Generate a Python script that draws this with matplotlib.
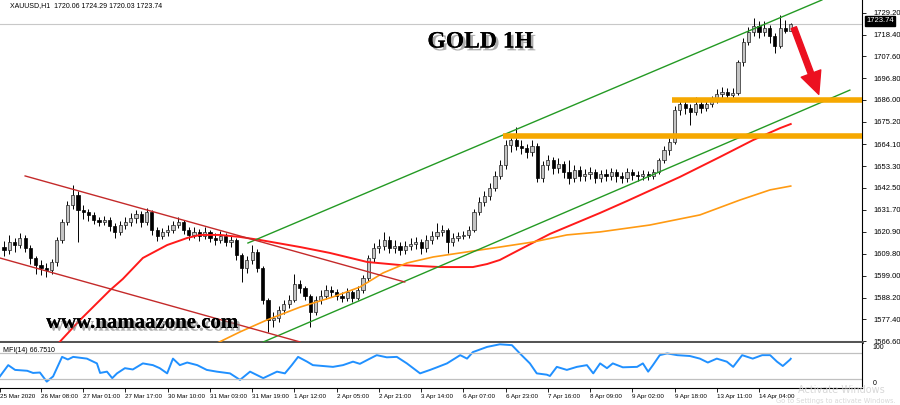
import numpy as np
import matplotlib.pyplot as plt
import matplotlib.patheffects as pe
from matplotlib.patches import FancyArrowPatch
from matplotlib import font_manager

# ---- data (2 hour bars, XAUUSD) ----
first_open = 1613.0
closes = [1611.8, 1615.7, 1614.2, 1617.7, 1612.7, 1607.8, 1604.3, 1602.8, 1601.9, 1605.8,
          1616.7, 1625.6, 1634.0, 1639.0, 1631.6, 1630.6, 1629.1, 1626.6, 1625.6, 1626.6,
          1623.6, 1620.7, 1624.1, 1625.6, 1627.6, 1629.6, 1625.6, 1630.6, 1621.7, 1618.7,
          1620.7, 1621.7, 1624.1, 1625.6, 1621.7, 1619.2, 1620.7, 1618.7, 1620.7, 1617.7,
          1616.7, 1618.7, 1615.7, 1616.7, 1609.3, 1602.8, 1606.8, 1610.8, 1602.8, 1587.0,
          1577.1, 1578.1, 1582.0, 1585.0, 1587.0, 1594.9, 1592.9, 1589.0, 1581.1, 1587.0,
          1589.0, 1591.9, 1590.9, 1589.0, 1588.0, 1590.9, 1588.0, 1591.9, 1597.9, 1607.8,
          1612.7, 1613.7, 1616.7, 1612.7, 1613.7, 1611.8, 1613.7, 1614.7, 1615.7, 1612.7,
          1616.7, 1618.7, 1620.7, 1621.7, 1615.7, 1617.7, 1618.7, 1619.2, 1621.7, 1630.6,
          1635.5, 1638.5, 1642.4, 1648.4, 1653.8, 1663.7, 1666.2, 1663.2, 1662.2, 1660.3,
          1663.2, 1647.4, 1653.8, 1656.3, 1652.3, 1654.3, 1650.4, 1647.4, 1651.4, 1648.4,
          1649.4, 1650.4, 1647.4, 1649.4, 1648.4, 1650.4, 1648.4, 1647.4, 1650.4, 1648.9,
          1648.4, 1649.4, 1648.4, 1650.4, 1656.3, 1661.3, 1665.2, 1681.0, 1684.0, 1682.0,
          1680.1, 1684.0, 1682.0, 1684.0, 1686.0, 1689.0, 1690.0, 1688.5, 1689.5, 1704.8,
          1714.7, 1719.7, 1722.6, 1719.7, 1721.6, 1717.7, 1712.7, 1721.6, 1720.06, 1723.74]
highs = [1616, 1619, 1617.5, 1620, 1619, 1614, 1609, 1607, 1605.5, 1607.5,
         1618, 1627, 1636, 1644, 1641, 1634, 1632, 1630.5, 1628, 1628.5,
         1628, 1625, 1626, 1628, 1630, 1631.5, 1631, 1632.5, 1631.5, 1623,
         1622.5, 1624, 1626, 1628, 1626.5, 1623, 1623, 1622, 1623, 1621.5,
         1620, 1621, 1620, 1618.5, 1617.5, 1610.5, 1609, 1614, 1612, 1604,
         1588, 1581, 1584, 1587, 1589.5, 1600, 1597, 1594, 1590, 1589,
         1592, 1594.5, 1594, 1592.5, 1591, 1593, 1592, 1594, 1599.5, 1609.5,
         1615, 1617, 1620.7, 1618.5, 1616.5, 1615.5, 1616, 1617.5, 1618, 1617,
         1619, 1621, 1625, 1624, 1622.5, 1620, 1620.5, 1621, 1623.5, 1632,
         1638, 1641, 1645, 1651, 1656.5, 1666, 1668.5, 1672.6, 1666, 1664,
         1666, 1664.5, 1656, 1659, 1658, 1657.5, 1656, 1656.5, 1654, 1653.5,
         1652, 1653, 1652, 1651.5, 1652, 1652.5, 1652, 1650.5, 1652.5, 1652,
         1651, 1651.5, 1651, 1652, 1657.5, 1663, 1667, 1683, 1686.5, 1686,
         1684, 1687.5, 1686, 1686.5, 1688, 1691.5, 1692.5, 1692, 1692, 1706,
         1716.5, 1722, 1726.6, 1725, 1725, 1723, 1719, 1728.0, 1725.5, 1724.29]
lows = [1609, 1610, 1611, 1612.5, 1611, 1605, 1600, 1599.5, 1598.5, 1600,
        1604, 1615, 1624, 1632, 1615.7, 1627, 1626, 1624.5, 1623.5, 1624,
        1621, 1617.5, 1619, 1622, 1623.5, 1625, 1623, 1624, 1619, 1616,
        1617, 1618.5, 1620, 1622.5, 1619.5, 1616.5, 1617.5, 1616, 1617, 1615.5,
        1614, 1615, 1613.5, 1613, 1607, 1595.9, 1600.5, 1605, 1601, 1585,
        1571, 1573.5, 1576, 1580, 1583, 1586, 1590.5, 1587, 1573.5, 1579.5,
        1585, 1587.5, 1588.5, 1587, 1586, 1586.5, 1586, 1587, 1590.5, 1596.5,
        1606, 1610.5, 1611.5, 1610.5, 1610.5, 1609.5, 1610, 1611.5, 1612, 1610,
        1611, 1614.5, 1617, 1618.5, 1610.3, 1613.5, 1616, 1617, 1617.5, 1620.5,
        1629, 1633.5, 1636.5, 1641, 1647, 1652, 1660.5, 1661, 1659.5, 1657.5,
        1658.5, 1645.5, 1645.5, 1651.5, 1649.5, 1650, 1647.5, 1644.2, 1645.5, 1646,
        1646, 1647, 1645, 1645.5, 1646, 1646.5, 1645.5, 1645, 1645.5, 1646.5,
        1646, 1646.5, 1646.5, 1647, 1649.5, 1655, 1659, 1664, 1678.5, 1679,
        1673.6, 1678.5, 1679.5, 1680.5, 1682.5, 1684.5, 1687, 1686.5, 1686, 1688.5,
        1703, 1713, 1717.5, 1716.5, 1717.5, 1714, 1709.3, 1711.5, 1719, 1720.03]

# moving averages (knots: bar index, price)
red_ma_x = [10.0, 14.4, 20.1, 22.5, 26.3, 30.9, 34.7, 37.1, 40.9, 44.7, 48.5, 56.1, 61.7, 68.8,
            75.0, 82.6, 88.8, 91.5, 93.9, 97.2, 103.4, 112.9, 118.0, 128.0, 135.6, 141.9, 147.0, 149.0]
red_ma_y = [1564.7, 1577.1, 1591.9, 1597.4, 1607.8, 1614.2, 1617.7, 1619.2, 1619.2, 1618.2, 1616.7,
            1613.2, 1610.3, 1605.8, 1604.3, 1603.3, 1603.3, 1604.8, 1606.8, 1611.3, 1619.7, 1630.1,
            1636.0, 1647.9, 1657.8, 1666.2, 1672.1, 1674.1]
orange_ma_x = [39.6, 44.7, 49.8, 56.1, 62.3, 67.4, 71.8, 76.3, 81.3, 87.7, 93.9, 100.2, 106.6,
               112.9, 122.3, 131.8, 139.4, 145.1, 149.0]
orange_ma_y = [1564.7, 1571.2, 1577.1, 1583.5, 1588.5, 1593.4, 1600.4, 1605.3, 1608.3, 1610.8,
               1613.2, 1615.7, 1619.2, 1620.7, 1624.1, 1629.1, 1636.5, 1641.5, 1643.4]

# drawn trend lines: (x0, y0, x1, y1)
green_upper = (46.2, 1615.2, 154.9, 1735.5)
green_lower = (49.1, 1566.2, 160.2, 1690.9)
red_upper = (4.0, 1648.4, 75.9, 1595.9)
red_lower = (-0.8, 1607.8, 56.1, 1566.2)
zones = [(126.5, 1685.8), (94.5, 1668.4)]
arrow_from = (149.4, 1723.1)
arrow_to = (154.5, 1687.5)

# MFI(14)
mfi_x = [-0.8, 0.8, 2.1, 4.4, 5.5, 6.8, 8.1, 9.3, 11.0, 12.1, 13.1, 15.7, 17.6, 18.2, 19.5, 20.5,
         21.4, 22.9, 24.4, 26.3, 28.2, 29.5, 30.9, 32.0, 33.3, 34.7, 36.6, 38.4, 40.3, 42.8, 44.7,
         46.6, 49.1, 51.7, 53.2, 54.5, 55.7, 57.4, 58.5, 62.3, 64.2, 66.1, 67.4, 69.3, 70.6, 72.5,
         74.4, 76.3, 78.8, 80.7, 82.0, 83.9, 86.4, 87.7, 88.8, 91.5, 93.9, 96.2, 97.7, 99.6, 100.9,
         102.8, 103.4, 104.7, 106.6, 108.5, 110.4, 111.6, 112.9, 114.2, 115.3, 117.2, 119.9, 121.0,
         122.0, 122.9, 124.2, 125.6, 127.5, 129.9, 131.8, 133.3, 135.0, 136.9, 138.1, 139.8, 141.8,
         143.6, 145.1, 146.4, 147.5, 148.9, 149.0]
mfi_y = [25.7, 52, 41, 39, 34, 35, 14, 26, 71, 65, 71, 67, 56, 34, 37, 22,
         33, 45, 42, 56, 52, 45, 33, 67, 52, 58, 52, 41, 37, 33, 18,
         37, 22, 37, 33, 52, 71, 60, 52, 48, 52, 60, 55, 67, 75, 70,
         71, 56, 33, 41, 47, 56, 75, 67, 82, 94, 100, 98, 79, 56, 33,
         30, 27, 48, 41, 48, 52, 33, 56, 45, 56, 47, 48, 56,
         37, 52, 75, 79, 75, 73, 67, 58, 67, 60, 48, 75, 67,
         75, 75, 60, 50, 65, 66.75]

price_ticks = [1566.6, 1577.4, 1588.2, 1599.0, 1609.8, 1620.9, 1631.7, 1642.5, 1653.3,
               1664.1, 1675.2, 1686.0, 1696.8, 1707.6, 1718.4, 1729.2]
time_ticks = [7, 15, 23, 31, 39, 47, 55, 63, 71, 79, 87, 95, 103, 111, 119, 127, 135, 143]
time_labels = ['26 Mar 08:00', '27 Mar 01:00', '27 Mar 17:00', '30 Mar 10:00', '31 Mar 03:00',
               '31 Mar 19:00', '1 Apr 12:00', '2 Apr 05:00', '2 Apr 21:00', '3 Apr 14:00',
               '6 Apr 07:00', '6 Apr 23:00', '7 Apr 16:00', '8 Apr 09:00', '9 Apr 02:00',
               '9 Apr 18:00', '13 Apr 11:00', '14 Apr 04:00']
last_price = 1723.74

names = {f.name for f in font_manager.fontManager.ttflist}
small_font = 'Liberation Sans Narrow' if 'Liberation Sans Narrow' in names else 'Liberation Sans'

closes = np.array(closes)
opens = np.concatenate([[first_open], closes[:-1]])
highs = np.maximum(np.array(highs), np.maximum(opens, closes))
lows = np.minimum(np.array(lows), np.minimum(opens, closes))
x = np.arange(len(closes))
xmin, xmax = -4 / 5.28, 858 / 5.28

fig = plt.figure(figsize=(9, 4.05), dpi=100)
ax = fig.add_axes([0, 63 / 405, 862 / 900, 342 / 405])
axm = fig.add_axes([0, 17 / 405, 862 / 900, 45 / 405])

# candles
ax.vlines(x, lows, highs, color='black', lw=0.7, zorder=3)
bull = closes >= opens
body = np.maximum(np.abs(closes - opens), 0.35)
ax.bar(x[bull], body[bull], bottom=np.minimum(opens, closes)[bull], width=0.6,
       color='#c4c4c4', edgecolor='#222222', lw=0.5, zorder=4)
ax.bar(x[~bull], body[~bull], bottom=np.minimum(opens, closes)[~bull], width=0.6,
       color='black', edgecolor='black', lw=0.5, zorder=4)

ax.axhline(last_price, color='#c8c8c8', lw=0.8, zorder=1)
ax.plot(red_ma_x, red_ma_y, color='#ff1a1a', lw=1.4, zorder=5)
ax.plot(orange_ma_x, orange_ma_y, color='#ff9a12', lw=1.2, zorder=5)
for ln, col in [(green_upper, '#249a24'), (green_lower, '#249a24'),
                (red_upper, '#c42a2a'), (red_lower, '#c42a2a')]:
    ax.plot([ln[0], ln[2]], [ln[1], ln[3]], color=col, lw=1.0, zorder=5)
for start, lvl in zones:
    ax.hlines(lvl, start, xmax, color='#f6a800', lw=4.0, zorder=6)

ax.add_patch(FancyArrowPatch(arrow_from, arrow_to,
                             arrowstyle='simple,head_length=1.6,head_width=1.5,tail_width=0.4',
                             mutation_scale=10, color='#ec1020', zorder=7))

ax.set_xlim(xmin, xmax)
ax.set_ylim(1566.2, 1735.5)
ax.yaxis.tick_right()
ax.set_yticks(price_ticks)
ax.set_yticklabels(['%.2f' % v for v in price_ticks], fontsize=5.5, family=small_font)
ax.tick_params(axis='y', length=3, width=0.6, pad=5)
ax.set_xticks([])
for s in ['top', 'left']:
    ax.spines[s].set_visible(False)
ax.spines['right'].set_linewidth(0.8)
ax.spines['bottom'].set_linewidth(2.2)
ax.spines['bottom'].set_color('#555555')

ax.text(0.012, 0.983, 'XAUUSD,H1  1720.06 1724.29 1720.03 1723.74', transform=ax.transAxes,
        fontsize=5, family=small_font, va='center', ha='left')
ax.text(0.557, 0.877, 'GOLD 1H', transform=ax.transAxes, fontsize=17, fontweight='bold',
        family='Liberation Serif', ha='center', va='center', zorder=8,
        path_effects=[pe.withSimplePatchShadow(offset=(2, -2), shadow_rgbFace='#777777', alpha=0.6),
                      pe.Normal()])
ax.text(0.165, 0.056, 'www.namaazone.com', transform=ax.transAxes, fontsize=15,
        fontweight='bold', family='Liberation Serif', ha='center', va='center', zorder=8,
        path_effects=[pe.withSimplePatchShadow(offset=(2, -2), shadow_rgbFace='#777777', alpha=0.6),
                      pe.Normal()])
fig.text(866 / 900, 1 - 21 / 405, '%.2f' % last_price, fontsize=5.5, family=small_font,
         color='white', va='center', ha='left',
         bbox=dict(boxstyle='square,pad=0.15', fc='black', ec='black'))

# MFI panel
axm.plot(mfi_x, mfi_y, color='#2090ff', lw=1.4)
axm.axhline(80, color='#c0c0c0', lw=0.9)
axm.axhline(20, color='#c0c0c0', lw=0.9)
axm.set_xlim(xmin, xmax)
axm.set_ylim(-0.7, 103)
axm.set_yticks([])
axm.text(0.004, 0.84, 'MFI(14) 66.7510', transform=axm.transAxes, fontsize=5,
         family=small_font, va='center')
axm.text(1.012, 0.97, '100', transform=axm.transAxes, fontsize=5, family=small_font, va='top')
axm.text(1.012, 0.03, '0', transform=axm.transAxes, fontsize=5, family=small_font, va='bottom')
axm.set_xticks([xmin] + time_ticks)
axm.set_xticklabels(['25 Mar 2020'] + time_labels, fontsize=4.5, family=small_font, ha='left')
axm.tick_params(axis='x', length=3, width=0.6, pad=1.5)
axm.spines['left'].set_visible(False)
axm.spines['top'].set_visible(False)
axm.spines['right'].set_linewidth(0.8)
axm.spines['bottom'].set_linewidth(0.8)

fig.text(798 / 900, 1 - 390 / 405, 'Activate Windows', fontsize=7, color='#d8d8d8',
         va='center', ha='left')
fig.text(776 / 900, 1 - 401 / 405, 'Go to Settings to activate Windows.', fontsize=4.8,
         color='#d8d8d8', va='center', ha='left')

fig.savefig('out.png', dpi=100, facecolor='white')
